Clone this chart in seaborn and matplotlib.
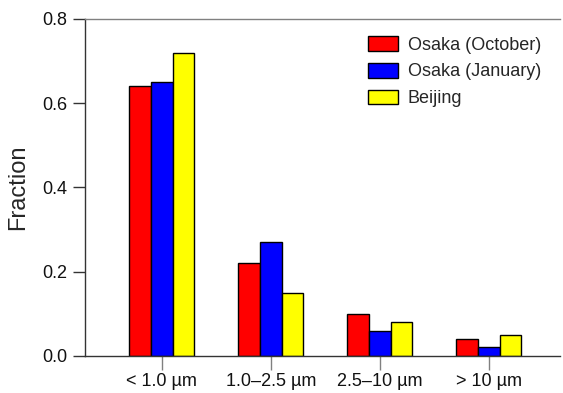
import matplotlib
matplotlib.use("Agg")
import matplotlib.pyplot as plt
import seaborn as sns
import pandas as pd

categories = ["< 1.0 µm", "1.0–2.5 µm", "2.5–10 µm", "> 10 µm"]
series_names = ["Osaka (October)", "Osaka (January)", "Beijing"]
osaka_oct = [0.64, 0.22, 0.10, 0.04]
osaka_jan = [0.65, 0.27, 0.058, 0.02]
beijing = [0.72, 0.15, 0.08, 0.05]
colors = ["#ff0000", "#0000ff", "#ffff00"]
y_ticks = [0.0, 0.2, 0.4, 0.6, 0.8]

rows = []
for name, vals in zip(series_names, [osaka_oct, osaka_jan, beijing]):
    for c, v in zip(categories, vals):
        rows.append({"size": c, "series": name, "fraction": v})
df = pd.DataFrame(rows)

sns.set_style("ticks")
plt.rcParams["font.family"] = ["Liberation Sans", "DejaVu Sans"]

fig = plt.figure(figsize=(5.63, 3.93), dpi=100)
ax = fig.add_axes([85 / 563, 1 - 355.7 / 393, (560 - 85) / 563, (355.7 - 19) / 393])

sns.barplot(data=df, x="size", y="fraction", hue="series", order=categories,
            hue_order=series_names, palette=dict(zip(series_names, colors)),
            width=0.6, edgecolor="black", linewidth=1.0, saturation=1.0,
            errorbar=None, ax=ax)

ax.set_xlim(-0.704, 3.654)
ax.set_ylim(0, 0.8)
ax.set_yticks(y_ticks)
ax.set_yticklabels([f"{t:.1f}" for t in y_ticks])
ax.set_xlabel("")
ax.set_ylabel("Fraction", fontsize=17, labelpad=9)

for s in ["left", "bottom"]:
    ax.spines[s].set_color("#333333")
    ax.spines[s].set_linewidth(1.0)
ax.spines["top"].set_visible(True)
ax.spines["top"].set_color("#808080")
ax.spines["top"].set_linewidth(1.0)
ax.spines["right"].set_visible(False)

ax.tick_params(axis="y", direction="out", length=9, width=1.0, color="#333333",
               labelsize=13, pad=4, labelcolor="#111111")
ax.tick_params(axis="x", direction="out", length=10, width=1.0, color="#808080",
               labelsize=13, pad=2.5, labelcolor="#111111")

leg = ax.legend(loc="upper left", bbox_to_anchor=(368 / 563, 1 - 36 / 393),
                bbox_transform=fig.transFigure, frameon=False, fontsize=13,
                handlelength=1.67, handleheight=0.9, handletextpad=0.52,
                labelspacing=0.5, borderaxespad=0, borderpad=0)
for p in leg.get_patches():
    p.set_edgecolor("black")
    p.set_linewidth(1.0)

fig.savefig("out.png", dpi=100)
